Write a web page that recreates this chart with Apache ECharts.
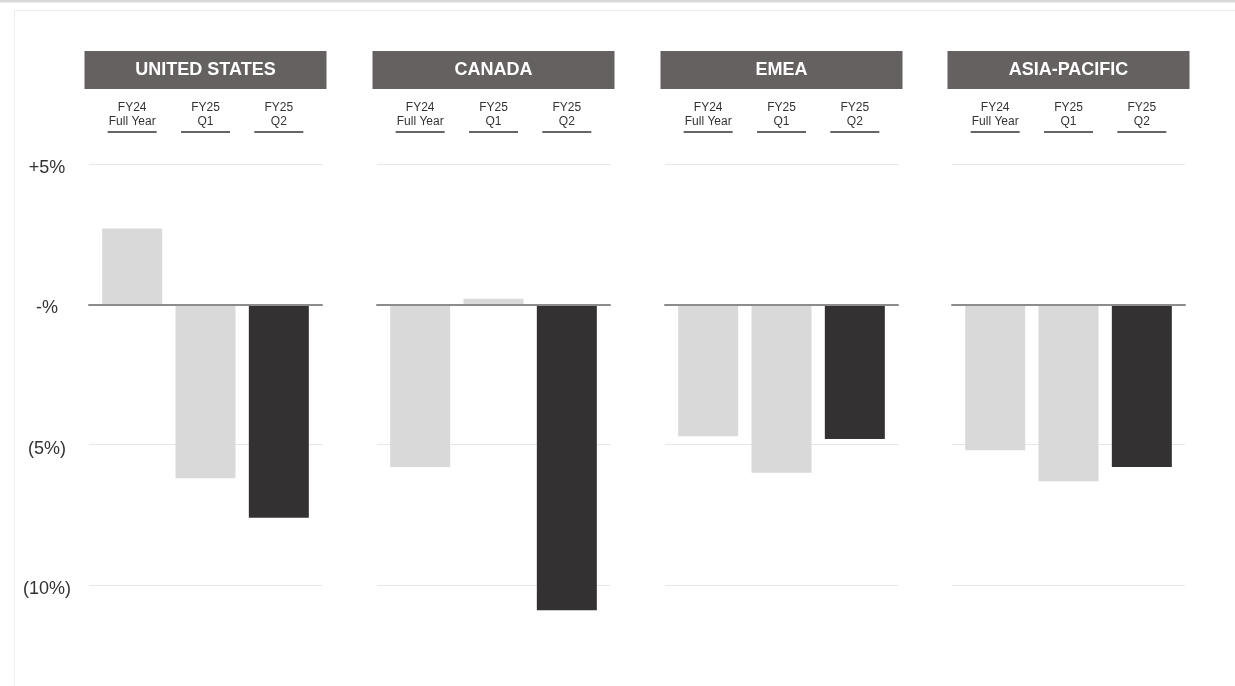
<!DOCTYPE html>
<html>
<head>
<meta charset="utf-8">
<script src="https://cdn.jsdelivr.net/npm/echarts@6/dist/echarts.min.js"></script>
<style>
html,body{margin:0;padding:0;background:#fff;}
#chart{width:1235px;height:686px;}
</style>
</head>
<body>
<div id="chart"></div>
<script>
// ---- data ----
const regions = ['UNITED STATES', 'CANADA', 'EMEA', 'ASIA-PACIFIC'];
const periods = ['FY24\nFull Year', 'FY25\nQ1', 'FY25\nQ2'];
const usValues = [2.7, -6.2, -7.6];
const canadaValues = [-5.8, 0.2, -10.9];
const emeaValues = [-4.7, -6.0, -4.8];
const apacValues = [-5.2, -6.3, -5.8];
const yTickValues = [5, 0, -5, -10];
const yTickLabels = ['+5%', '-%', '(5%)', '(10%)'];

// ---- layout ----
const regionValues = [usValues, canadaValues, emeaValues, apacValues];
const panelLefts = [89, 377, 665, 952];
const panelWidth = 233;
const innerInset = 6.5;
const gridTop = 164, gridHeight = 421;
const FONT = '"Liberation Sans", Arial, sans-serif';
const barColors = ['#d9d9d9', '#d9d9d9', '#333132'];

const grids = [], xAxes = [], yAxes = [], series = [], graphics = [];

graphics.push({type: 'rect', shape: {x: 0, y: 0, width: 1235, height: 2.5}, style: {fill: '#d9d9d9'}, silent: true});
graphics.push({type: 'rect', shape: {x: 14.5, y: 10.5, width: 1240, height: 700}, style: {fill: 'none', stroke: '#eeeeee', lineWidth: 1}, silent: true});

regions.forEach((name, i) => {
  const L = panelLefts[i];
  grids.push({left: L, width: panelWidth, top: gridTop, height: gridHeight});
  grids.push({left: L + innerInset, width: panelWidth - 2 * innerInset, top: gridTop, height: gridHeight});

  xAxes.push({
    gridIndex: 2 * i, type: 'value', min: 0, max: 1, z: 5,
    axisLine: {show: true, onZero: true, lineStyle: {color: '#8c8c8c', width: 2}},
    axisTick: {show: false}, axisLabel: {show: false}, splitLine: {show: false}
  });
  xAxes.push({
    gridIndex: 2 * i + 1, type: 'category', data: periods, position: 'top',
    axisLine: {show: false, onZero: false}, axisTick: {show: false}, splitLine: {show: false},
    axisLabel: {
      margin: 29, interval: 0,
      formatter: v => v.split('\n').map(s => '{a|' + s + '}').join('\n') + '\n{u|}',
      rich: {
        a: {fontSize: 12, lineHeight: 14.5, color: '#333333', fontFamily: FONT, align: 'center'},
        u: {width: 49, height: 1.5, lineHeight: 6, backgroundColor: '#333333', align: 'center'}
      }
    }
  });

  yAxes.push({
    gridIndex: 2 * i, type: 'value', min: -10, max: 5, interval: 5,
    axisLine: {show: false}, axisTick: {show: false},
    splitLine: {show: true, lineStyle: {color: '#e6e6e6', width: 1}},
    axisLabel: {
      show: i === 0, margin: 42, align: 'center', verticalAlign: 'top', lineHeight: 8,
      fontSize: 18, color: '#333333', fontFamily: FONT,
      formatter: v => { const k = yTickValues.indexOf(v); return k >= 0 ? yTickLabels[k] : ''; }
    }
  });
  yAxes.push({gridIndex: 2 * i + 1, type: 'value', min: -10, max: 5, interval: 5, show: false, splitLine: {show: false}});

  series.push({
    type: 'bar', xAxisIndex: 2 * i + 1, yAxisIndex: 2 * i + 1, barWidth: 60, clip: false,
    data: regionValues[i].map((v, k) => ({value: v, itemStyle: {color: barColors[k]}})),
    silent: true
  });

  graphics.push({
    type: 'group', left: L - 4.5, top: 51, silent: true,
    children: [
      {type: 'rect', shape: {x: 0, y: 0, width: panelWidth + 9, height: 38}, style: {fill: '#656161'}},
      {type: 'text', style: {x: (panelWidth + 9) / 2, y: 19, text: name, fill: '#ffffff',
        font: 'bold 18px ' + FONT, textAlign: 'center', textVerticalAlign: 'middle'}}
    ]
  });
});

const chart = echarts.init(document.getElementById('chart'), null, {renderer: 'canvas'});
chart.setOption({
  animation: false,
  backgroundColor: '#ffffff',
  grid: grids, xAxis: xAxes, yAxis: yAxes, series: series, graphic: graphics
});
</script>
</body>
</html>
